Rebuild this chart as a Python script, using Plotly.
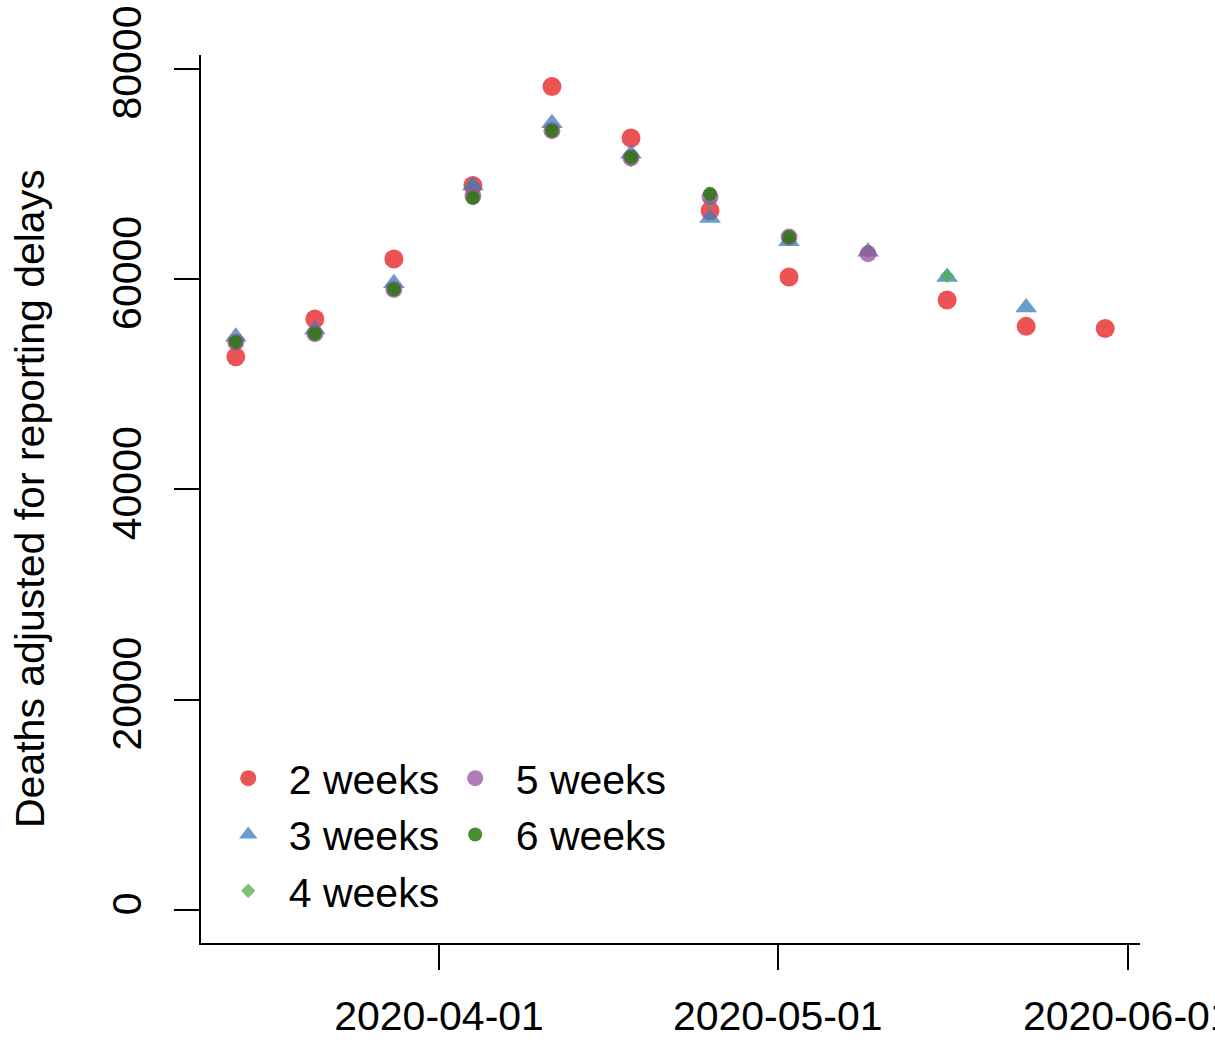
import plotly.graph_objects as go

dates = ["2020-03-14", "2020-03-21", "2020-03-28", "2020-04-04", "2020-04-11", "2020-04-18",
         "2020-04-25", "2020-05-02", "2020-05-09", "2020-05-16", "2020-05-23", "2020-05-30"]

weeks2 = [52600, 56200, 61900, 68900, 78300, 73400, 66500, 60200, None, 58000, 55500, 55300]
weeks3 = [54500, 55200, 59600, 68900, 74800, 71900, 65800, 63600, 62600, 60200, 57300, None]
weeks4 = [54100, 54900, 59200, 68100, 74300, 71300, 67400, 63800, 62700, 60300, None, None]
weeks5 = [54000, 54800, 59000, 67900, 74100, 71500, 67800, 64000, 62400, None, None, None]
weeks6 = [54000, 54800, 59000, 67700, 74100, 71600, 68100, 64000, None, None, None, None]

series_names = ["2 weeks", "3 weeks", "4 weeks", "5 weeks", "6 weeks"]
series_vals = [weeks2, weeks3, weeks4, weeks5, weeks6]
colors = ["rgba(228,26,28,0.75)", "rgba(55,126,184,0.75)", "rgba(77,175,74,0.75)",
          "rgba(152,78,163,0.75)", "rgba(45,120,15,0.85)"]
symbols = ["circle", "triangle-up", "diamond", "circle", "circle"]
sizes = [19, 19, 11, 17, 14]
legend_ids = ["legend", "legend", "legend", "legend2", "legend2"]

x_ticks = ["2020-04-01", "2020-05-01", "2020-06-01"]
y_ticks = [0, 20000, 40000, 60000, 80000]

FONT = "Liberation Sans, Arial, sans-serif"

fig = go.Figure()
for name, vals, c, s, sz, lg in zip(series_names, series_vals, colors, symbols, sizes, legend_ids):
    fig.add_trace(go.Scatter(
        x=dates, y=vals, mode="markers", name="\u2002" + name, legend=lg,
        marker=dict(color=c, symbol=s, size=sz, line=dict(width=0)),
    ))

legend_common = dict(
    orientation="v", yanchor="top", xanchor="left", y=0.223,
    font=dict(size=41, family=FONT), bgcolor="rgba(0,0,0,0)",
    itemsizing="trace", tracegroupgap=0,
)

fig.update_layout(
    width=1215, height=1040,
    margin=dict(l=201, r=75, t=55, b=97, autoexpand=False),
    paper_bgcolor="white", plot_bgcolor="white",
    font=dict(family=FONT, size=41, color="black"),
    showlegend=True,
    legend=dict(x=0.029, **legend_common),
    legend2=dict(x=0.2707, **legend_common),
    annotations=[dict(
        text="Deaths adjusted for reporting delays", xref="paper", yref="paper",
        x=0, y=0.5, xanchor="center", yanchor="middle", xshift=-171,
        textangle=-90, showarrow=False, font=dict(size=41, family=FONT),
    )],
)

fig.update_xaxes(
    type="date", range=["2020-03-10 22:00", "2020-06-02 02:00"],
    tickvals=x_ticks, ticktext=x_ticks,
    showline=True, linecolor="black", linewidth=2, mirror=False,
    ticks="outside", ticklen=25, tickwidth=2, tickcolor="black",
    showgrid=False, zeroline=False, ticklabelstandoff=11,
    ticklabeloverflow="allow",
)
fig.update_yaxes(
    range=[-3130, 81300], tickvals=y_ticks, ticktext=[str(v) for v in y_ticks],
    tickangle=-90,
    showline=True, linecolor="black", linewidth=2, mirror=False,
    ticks="outside", ticklen=25, tickwidth=2, tickcolor="black",
    showgrid=False, zeroline=False, ticklabelstandoff=17,
    ticklabeloverflow="allow",
)

fig.write_html("out.html")
